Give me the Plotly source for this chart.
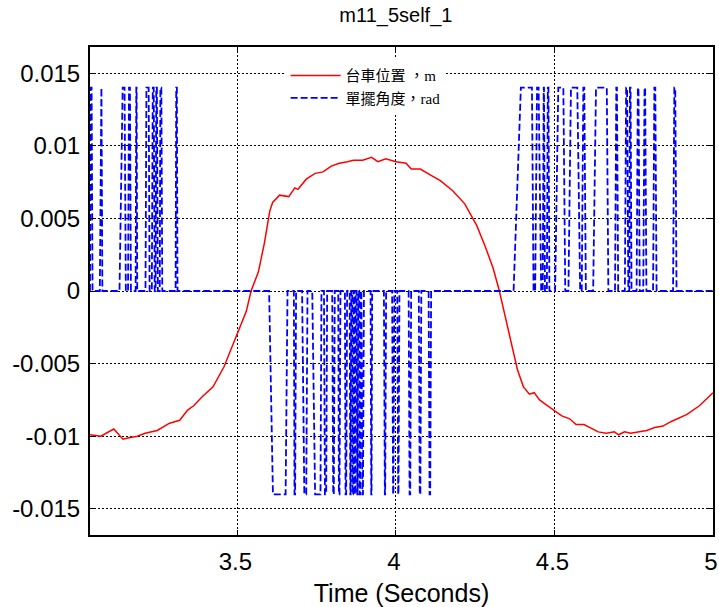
import plotly.graph_objects as go

# cart position (m)
cart_t = [3.035, 3.069, 3.110, 3.139, 3.158, 3.184, 3.209, 3.247, 3.286, 3.318, 3.343, 3.362,
          3.388, 3.423, 3.458, 3.496, 3.528, 3.543, 3.566, 3.585, 3.602, 3.611, 3.633, 3.662,
          3.681, 3.691, 3.717, 3.745, 3.770, 3.796, 3.821, 3.847, 3.866, 3.895, 3.923, 3.943,
          3.968, 4.000, 4.032, 4.048, 4.077, 4.108, 4.140, 4.179, 4.217, 4.255, 4.281, 4.306,
          4.325, 4.344, 4.364, 4.383, 4.402, 4.421, 4.436, 4.453, 4.472, 4.497, 4.523, 4.548,
          4.568, 4.593, 4.612, 4.638, 4.663, 4.689, 4.702, 4.721, 4.740, 4.765, 4.791, 4.816,
          4.842, 4.867, 4.899, 4.918, 4.957, 5.000]
cart_x = [-0.0099, -0.0100, -0.0095, -0.0102, -0.0101, -0.0100, -0.0098, -0.0096, -0.0091, -0.0089, -0.0082, -0.0079,
          -0.0073, -0.0066, -0.0052, -0.0032, -0.0014, 0.0000, 0.0013, 0.0033, 0.0055, 0.0061, 0.0066, 0.0065,
          0.0071, 0.0070, 0.0077, 0.0081, 0.0082, 0.0086, 0.0088, 0.0089, 0.0090, 0.0090, 0.0092, 0.0089,
          0.0091, 0.0089, 0.0088, 0.0084, 0.0084, 0.0080, 0.0076, 0.0069, 0.0060, 0.0045, 0.0031, 0.0016,
          0.0001, -0.0017, -0.0036, -0.0054, -0.0066, -0.0071, -0.0070, -0.0075, -0.0078, -0.0082, -0.0086, -0.0088,
          -0.0092, -0.0092, -0.0094, -0.0097, -0.0098, -0.0097, -0.0099, -0.0097, -0.0098, -0.0097, -0.0096, -0.0094,
          -0.0093, -0.0090, -0.0087, -0.0085, -0.0079, -0.0070]

# pendulum angle (rad), bang-bang pulses
angle_t = [3.035, 3.037, 3.040, 3.043, 3.066, 3.069, 3.071, 3.074,
           3.128, 3.138, 3.144, 3.148, 3.155, 3.158, 3.161, 3.164, 3.179, 3.181, 3.182, 3.184,
           3.210, 3.213, 3.220, 3.223, 3.230, 3.233, 3.236, 3.239, 3.242, 3.244, 3.246, 3.249,
           3.255, 3.257, 3.260, 3.263, 3.305, 3.307, 3.309, 3.311,
           3.600, 3.612, 3.652, 3.658, 3.678, 3.680, 3.682, 3.685, 3.704, 3.711, 3.717, 3.721,
           3.736, 3.745, 3.762, 3.765, 3.773, 3.776, 3.780, 3.783, 3.799, 3.802, 3.804, 3.807,
           3.818, 3.820, 3.822, 3.825, 3.839, 3.841, 3.843, 3.846, 3.854, 3.856, 3.857, 3.859,
           3.862, 3.863, 3.865, 3.866, 3.869, 3.870, 3.872, 3.873, 3.876, 3.878, 3.879, 3.881,
           3.884, 3.885, 3.887, 3.888, 3.891, 3.894, 3.896, 3.899, 3.920, 3.922, 3.923, 3.925,
           3.962, 3.965, 3.966, 3.969, 3.988, 3.991, 3.992, 3.995, 4.004, 4.007, 4.008, 4.011,
           4.040, 4.043, 4.045, 4.048, 4.072, 4.075, 4.077, 4.080, 4.103, 4.106, 4.108, 4.111,
           4.371, 4.394, 4.429, 4.434, 4.439, 4.445, 4.450, 4.458, 4.463, 4.466, 4.467, 4.470,
           4.476, 4.479, 4.481, 4.484, 4.502, 4.512, 4.528, 4.534, 4.544, 4.552, 4.572, 4.581,
           4.586, 4.591, 4.594, 4.599, 4.622, 4.631, 4.665, 4.670, 4.691, 4.695, 4.697, 4.701,
           4.722, 4.726, 4.729, 4.733, 4.736, 4.738, 4.740, 4.743, 4.759, 4.763, 4.765, 4.769,
           4.780, 4.784, 4.786, 4.790, 4.811, 4.815, 4.818, 4.822, 4.874, 4.878, 4.881, 4.885,
           5.000]
angle_v = [0, 0.014, 0.014, 0, 0, 0.014, 0.014, 0,
           0, 0.014, 0.014, 0, 0, 0.014, 0.014, 0, 0, 0.014, 0.014, 0,
           0, 0.014, 0.014, 0, 0, 0.014, 0.014, 0, 0, 0.014, 0.014, 0,
           0, 0.014, 0.014, 0, 0, 0.014, 0.014, 0,
           0, -0.014, -0.014, 0, 0, -0.014, -0.014, 0, 0, -0.014, -0.014, 0,
           0, -0.014, -0.014, 0, 0, -0.014, -0.014, 0, 0, -0.014, -0.014, 0,
           0, -0.014, -0.014, 0, 0, -0.014, -0.014, 0, 0, -0.014, -0.014, 0,
           0, -0.014, -0.014, 0, 0, -0.014, -0.014, 0, 0, -0.014, -0.014, 0,
           0, -0.014, -0.014, 0, 0, -0.014, -0.014, 0, 0, -0.014, -0.014, 0,
           0, -0.014, -0.014, 0, 0, -0.014, -0.014, 0, 0, -0.014, -0.014, 0,
           0, -0.014, -0.014, 0, 0, -0.014, -0.014, 0, 0, -0.014, -0.014, 0,
           0, 0.014, 0.014, 0, 0, 0.014, 0.014, 0, 0, 0.014, 0.014, 0,
           0, 0.014, 0.014, 0, 0, 0.014, 0.014, 0, 0, 0.014, 0.014, 0,
           0, 0.014, 0.014, 0, 0, 0.014, 0.014, 0, 0, 0.014, 0.014, 0,
           0, 0.014, 0.014, 0, 0, 0.014, 0.014, 0, 0, 0.014, 0.014, 0,
           0, 0.014, 0.014, 0, 0, 0.014, 0.014, 0, 0, 0.014, 0.014, 0,
           0]

x_ticks = [3.5, 4, 4.5, 5]
x_labels = ['3.5', '4', '4.5', '5']
y_ticks = [-0.015, -0.01, -0.005, 0, 0.005, 0.01, 0.015]
y_labels = ['-0.015', '-0.01', '-0.005', '0', '0.005', '0.01', '0.015']

fig = go.Figure()
fig.add_trace(go.Scatter(x=cart_t, y=cart_x, mode='lines', name='台車位置 ，m',
                         line=dict(color='#ff0000', width=1.5)))
fig.add_trace(go.Scatter(x=angle_t, y=angle_v, mode='lines', name='單擺角度，rad',
                         line=dict(color='#0000ff', width=1.8, dash='7px,3px')))

axis_style = dict(showline=True, linecolor='black', linewidth=2, mirror='ticks',
                  ticks='inside', ticklen=5, tickcolor='black', automargin=False,
                  showgrid=True, gridcolor='black', gridwidth=1, griddash='2px,2px',
                  zeroline=False,
                  tickfont=dict(family='Liberation Sans, Arial', size=24, color='black'))

fig.update_layout(
    width=719, height=607,
    margin=dict(l=90, r=6, t=47, b=72),
    paper_bgcolor='white', plot_bgcolor='white',
    title=dict(text='m11_5self_1', x=0.491, xref='paper', y=0.975, yanchor='middle',
               font=dict(family='Liberation Sans, Arial', size=20, color='black')),
    xaxis=dict(range=[3.035, 5.0], tickvals=x_ticks, ticktext=x_labels,
               ticklabelstandoff=4, ticklabelshift=-2,
               title=dict(text='Time (Seconds)', standoff=12,
                          font=dict(family='Liberation Sans, Arial', size=25, color='black')),
               **axis_style),
    yaxis=dict(range=[-0.0168, 0.0168], tickvals=y_ticks, ticktext=y_labels,
               ticklabelstandoff=3, **axis_style),
    legend=dict(x=0.314, y=0.975, xanchor='left', yanchor='top',
                bgcolor='white', borderwidth=0, itemwidth=50,
                font=dict(family='Liberation Serif, Noto Sans CJK TC', size=15, color='black'),
                tracegroupgap=0),
    showlegend=True,
)

fig.write_html('out.html', config={'displayModeBar': False},
               post_script="document.body.style.margin='0';")
